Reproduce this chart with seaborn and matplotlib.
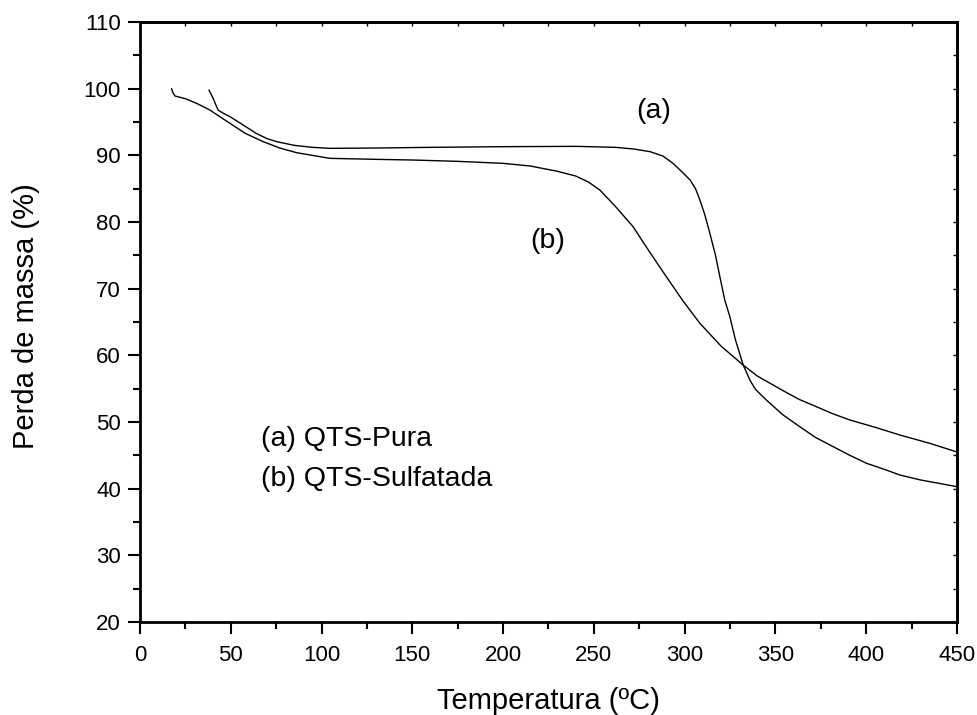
import numpy as np
import pandas as pd
import seaborn as sns
import matplotlib.pyplot as plt
from matplotlib.ticker import MultipleLocator

# Curvas TGA
temp_a = [38, 40.3, 43, 46, 49.6, 56, 64, 70, 75.3, 85, 95, 104.6, 130, 160, 200, 240, 262,
          272, 281, 288, 293.6, 299, 303, 306, 308.4, 311, 313.9, 317, 319.4, 322.1, 324.9,
          328, 332.2, 335.9, 339, 345, 354, 363.4, 372, 381.8, 391, 400.2, 410, 418.5,
          430, 440, 450]
masa_a = [99.8, 98.55, 96.8, 96.3, 95.8, 94.7, 93.3, 92.5, 92.05, 91.5, 91.2, 91.05, 91.1, 91.2,
          91.3, 91.35, 91.2, 90.95, 90.55, 89.9, 88.8, 87.4, 86.3, 85.0, 83.3, 81.2, 78.3, 75.0,
          71.8, 68.3, 65.8, 62.3, 58.6, 56.3, 54.9, 53.3, 51.1, 49.3, 47.7, 46.3, 45.0, 43.8,
          42.9, 42.05, 41.3, 40.8, 40.3]

temp_b = [17.4, 18.2, 19.3, 25, 31.2, 38.5, 44, 49.6, 58, 67.9, 77, 86.3, 104.6, 130, 150, 175,
          200, 215, 230, 240, 247, 253.3, 262, 271.6, 280, 289.9, 299, 308.4, 320, 332.2, 340,
          354.2, 363, 372.5, 381, 391, 405, 418.5, 435, 450]
masa_b = [100.0, 99.4, 98.9, 98.5, 97.8, 96.8, 95.8, 94.8, 93.3, 92.05, 91.1, 90.4, 89.55, 89.4,
          89.3, 89.1, 88.8, 88.4, 87.6, 86.9, 86.0, 84.8, 82.3, 79.3, 75.8, 71.8, 68.2, 64.8,
          61.4, 58.55, 56.9, 54.7, 53.4, 52.3, 51.3, 50.3, 49.2, 48.05, 46.8, 45.5]

df_a = pd.DataFrame({'temp': temp_a, 'masa': masa_a})
df_b = pd.DataFrame({'temp': temp_b, 'masa': masa_b})

sns.set_style("ticks")
plt.rcParams['font.family'] = ['Liberation Sans', 'DejaVu Sans']
plt.rcParams['text.color'] = 'black'
plt.rcParams['axes.labelcolor'] = 'black'

fig = plt.figure(figsize=(9.78, 7.15), dpi=100)
ax = fig.add_axes([0.1431, 0.1301, 0.8354, 0.8391])

sns.lineplot(data=df_a, x='temp', y='masa', ax=ax, color='black', linewidth=1.0, sort=False)
sns.lineplot(data=df_b, x='temp', y='masa', ax=ax, color='black', linewidth=1.0, sort=False)

ax.set_xlim(0, 450)
ax.set_ylim(20, 110)
ax.xaxis.set_major_locator(MultipleLocator(50))
ax.xaxis.set_minor_locator(MultipleLocator(25))
ax.yaxis.set_major_locator(MultipleLocator(10))
ax.yaxis.set_minor_locator(MultipleLocator(5))
ax.tick_params(which='major', direction='out', length=8.5, width=1.5, labelsize=16,
               colors='black')
ax.tick_params(axis='x', which='major', pad=8)
ax.tick_params(axis='y', which='major', pad=5.3)
ax.tick_params(which='minor', direction='out', length=5, width=1.5, colors='black')
for s in ax.spines.values():
    s.set_visible(True)
    s.set_linewidth(2)
    s.set_color('black')

# ticks interiores arriba y a la derecha
top = ax.secondary_xaxis('top')
top.xaxis.set_major_locator(MultipleLocator(25))
top.tick_params(direction='in', length=3, width=1, labeltop=False, colors='black')
top.spines['top'].set_linewidth(2)
right = ax.secondary_yaxis('right')
right.yaxis.set_major_locator(MultipleLocator(5))
right.tick_params(direction='in', length=3, width=1, labelright=False, colors='black')
right.spines['right'].set_linewidth(2)

ax.set_xlabel('Temperatura (ºC)', fontsize=21)
ax.set_ylabel('Perda de massa (%)', fontsize=21)
ax.xaxis.set_label_coords(0.5, -0.108)
ax.yaxis.set_label_coords(-0.1223, 0.51)

ax.text(283, 96.7, '(a)', fontsize=20.5, ha='center', va='center')
ax.text(224.7, 77.2, '(b)', fontsize=20.5, ha='center', va='center')
ax.text(66.6, 47.4, '(a) QTS-Pura', fontsize=20.5, ha='left', va='center')
ax.text(66.6, 41.5, '(b) QTS-Sulfatada', fontsize=20.5, ha='left', va='center')

fig.savefig('out.png', dpi=100)
